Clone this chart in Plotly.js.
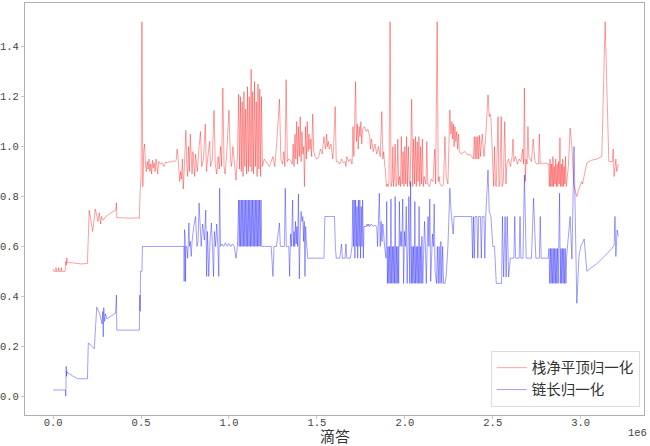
<!DOCTYPE html>
<html>
<head>
<meta charset="utf-8">
<script src="https://cdn.plot.ly/plotly-3.0.1.min.js"></script>
<style>html,body{margin:0;padding:0;background:#fff;}#chart{width:650px;height:446px;}</style>
</head>
<body>
<div id="chart"></div>
<script>
// x in units of 1e6 ticks (axis offset label "1e6"), y normalised value
const seriesNames = ["栈净平顶归一化", "链长归一化"];
const xAxisLabel = "滴答";
const xOffsetLabel = "1e6";
const xTickValues = [0.0, 0.5, 1.0, 1.5, 2.0, 2.5, 3.0];
const yTickValues = [0.0, 0.2, 0.4, 0.6, 0.8, 1.0, 1.2, 1.4];

const stackPoints = [
[0.000,0.510],[0.005,0.500],[0.015,0.500],[0.016,0.515],[0.020,0.500],[0.030,0.500],[0.031,0.515],[0.035,0.500],[0.045,0.500],[0.046,0.515],
[0.050,0.500],[0.068,0.500],[0.072,0.540],[0.075,0.525],[0.078,0.555],[0.080,0.535],[0.100,0.535],[0.130,0.532],[0.160,0.530],[0.195,0.532],
[0.205,0.745],[0.225,0.660],[0.240,0.750],[0.255,0.700],[0.262,0.735],[0.270,0.690],[0.275,0.720],[0.285,0.705],[0.300,0.720],[0.330,0.735],
[0.355,0.745],[0.360,0.775],[0.362,0.715],[0.400,0.715],[0.440,0.713],[0.480,0.715],[0.490,0.712],
[0.495,0.820],[0.500,0.880],[0.505,1.500],[0.510,0.840],[0.515,0.980],[0.520,1.010],[0.525,0.930],
[0.530,0.900],[0.535,0.940],[0.540,0.910],[0.545,0.950],[0.550,0.900],[0.555,0.930],[0.560,0.890],[0.565,0.945],[0.570,0.915],[0.575,0.935],
[0.580,0.900],[0.585,0.950],[0.590,0.920],[0.595,0.890],[0.600,0.940],[0.610,0.930],[0.620,0.935],[0.630,0.920],[0.640,0.938],[0.650,0.935],
[0.660,0.940],[0.670,0.938],[0.680,0.942],[0.690,0.940],[0.700,0.945],
[0.705,0.990],[0.710,0.960],[0.715,0.880],[0.720,0.860],[0.725,0.900],[0.730,0.870],[0.735,0.950],[0.740,0.830],[0.745,0.900],[0.750,0.960],
[0.755,1.065],[0.760,0.930],[0.765,0.880],[0.770,1.000],[0.775,0.900],[0.780,1.050],[0.785,0.920],[0.790,0.890],[0.795,0.980],[0.800,0.940],
[0.805,0.880],[0.810,0.970],[0.815,0.920],[0.820,0.900],[0.830,1.000],[0.838,1.060],[0.845,0.920],[0.855,0.950],[0.865,1.090],[0.872,0.900],
[0.880,0.960],[0.890,1.020],[0.895,0.920],[0.905,0.950],[0.915,1.145],[0.922,0.930],[0.930,0.890],[0.938,0.960],[0.945,0.910],[0.952,1.000],
[0.958,0.920],[0.965,1.235],[0.972,0.920],[0.978,0.890],[0.985,0.950],[0.992,1.050],[1.000,1.145],[1.008,0.950],[1.015,0.920],[1.022,1.000],
[1.030,0.930],[1.040,0.865],[1.048,0.960],[1.055,1.210],
[1.060,0.910],[1.065,1.200],[1.070,0.900],[1.075,1.180],[1.080,0.880],[1.085,1.220],[1.090,0.920],[1.095,1.150],[1.100,0.890],[1.105,1.240],
[1.110,0.900],[1.115,1.200],[1.120,0.920],[1.126,1.310],[1.130,0.900],[1.135,1.220],[1.140,0.890],[1.145,1.260],[1.150,0.920],[1.155,1.180],
[1.160,0.880],[1.165,1.250],[1.170,0.910],[1.175,1.230],[1.180,0.880],[1.185,1.200],[1.190,0.920],
[1.200,0.950],[1.210,0.940],[1.220,0.930],[1.230,0.920],[1.240,0.940],[1.250,0.960],[1.260,0.920],[1.270,1.000],[1.287,1.190],[1.295,0.950],
[1.305,0.930],[1.312,0.980],[1.318,0.920],[1.325,1.268],[1.332,0.940],[1.340,0.950],[1.350,0.945],[1.360,0.930],[1.365,1.010],[1.370,0.920],
[1.375,1.050],[1.380,0.950],[1.385,1.100],[1.390,0.930],[1.395,1.080],[1.400,0.960],[1.405,1.120],[1.410,0.940],[1.415,1.060],[1.420,0.970],
[1.425,1.000],[1.429,0.840],[1.435,1.080],[1.440,0.950],[1.445,1.100],[1.450,0.980],[1.455,1.050],[1.460,0.990],[1.465,1.030],[1.470,0.960],
[1.476,1.130],[1.482,0.980],[1.490,0.960],[1.500,0.950],[1.510,0.960],[1.520,0.990],[1.530,0.970],[1.540,1.040],[1.545,1.010],[1.550,0.990],
[1.555,1.050],[1.560,1.000],[1.565,1.020],[1.570,0.990],[1.580,1.010],[1.590,0.950],[1.595,1.000],[1.604,1.160],[1.610,0.940],[1.620,0.940],
[1.630,0.930],[1.640,0.950],[1.650,0.935],[1.660,0.940],[1.665,0.920],[1.670,0.960],[1.680,0.940],[1.690,0.950],[1.700,0.930],
[1.705,1.080],[1.710,0.960],[1.715,1.100],[1.720,1.260],[1.725,1.020],[1.730,1.090],[1.735,0.990],[1.740,1.080],[1.745,1.040],[1.750,1.100],
[1.755,1.010],[1.760,1.070],[1.770,1.080],[1.780,1.060],[1.790,1.070],[1.800,1.040],[1.805,0.990],[1.810,1.030],[1.820,0.980],[1.830,1.010],
[1.840,0.970],[1.850,1.000],[1.860,0.960],[1.869,1.140],[1.875,0.950],[1.880,0.980],[1.885,0.930],[1.890,0.900],[1.895,0.840],[1.900,0.850],
[1.905,0.840],[1.910,0.860],[1.916,1.500],[1.922,0.840],
[1.928,0.860],[1.932,1.000],[1.936,0.840],[1.940,0.870],[1.945,1.010],[1.950,0.840],[1.955,0.860],[1.960,1.030],[1.965,0.845],[1.970,0.880],
[1.975,0.840],[1.980,1.040],[1.985,0.850],[1.990,0.980],[1.995,0.840],[2.000,1.000],[2.005,0.850],[2.010,1.040],[2.015,0.840],[2.020,1.000],
[2.025,0.860],[2.030,0.840],[2.039,1.190],[2.045,0.840],[2.050,1.030],[2.055,0.850],[2.060,1.040],[2.065,0.840],[2.070,1.020],[2.075,0.860],
[2.080,1.040],[2.085,0.840],[2.090,1.000],[2.095,0.850],[2.100,1.030],[2.105,0.840],[2.110,0.880],[2.120,0.850],[2.125,1.020],[2.130,0.850],
[2.140,0.840],[2.150,0.870],[2.160,0.860],[2.170,0.990],[2.175,0.850],[2.184,1.500],[2.190,0.860],[2.195,0.880],[2.200,0.850],[2.210,0.840],
[2.220,0.850],[2.228,1.040],[2.235,0.880],[2.245,0.850],[2.256,1.147],[2.262,1.050],[2.268,1.100],[2.272,1.030],[2.276,1.090],[2.280,1.000],
[2.285,1.080],[2.290,1.020],[2.295,1.060],[2.300,0.990],[2.305,1.050],[2.310,0.980],[2.320,0.970],[2.330,0.975],[2.340,0.980],[2.350,0.975],
[2.360,0.965],[2.370,0.970],[2.380,0.960],
[2.390,0.950],[2.395,1.040],[2.400,0.950],[2.405,1.040],[2.410,0.950],[2.415,1.040],[2.420,0.950],[2.425,1.045],[2.430,0.960],[2.440,1.050],
[2.450,0.960],[2.460,1.040],[2.473,1.207],[2.480,1.120],[2.485,1.130],[2.490,1.110],
[2.500,0.900],[2.505,0.840],[2.510,1.000],[2.515,0.850],[2.520,0.840],[2.530,1.120],[2.535,0.840],[2.540,0.850],[2.548,1.120],[2.553,0.840],
[2.560,0.860],[2.568,1.100],[2.575,0.850],[2.580,0.930],[2.590,0.950],[2.600,0.920],[2.610,0.960],[2.615,1.030],[2.620,0.940],[2.630,0.960],
[2.640,0.930],[2.650,0.950],[2.660,0.940],[2.670,0.990],[2.675,0.930],[2.680,1.235],[2.685,0.860],[2.690,0.950],[2.695,0.930],[2.700,1.080],
[2.705,0.960],[2.720,0.940],[2.730,1.030],[2.740,0.940],[2.750,0.930],[2.760,0.930],[2.765,1.050],[2.770,0.930],[2.780,0.935],[2.790,0.930],
[2.800,0.935],[2.810,0.930],[2.818,0.930],
[2.822,0.840],[2.826,0.950],[2.830,0.840],[2.834,0.930],[2.838,0.840],[2.842,0.960],[2.846,0.840],[2.850,0.920],[2.854,0.850],[2.858,0.950],
[2.862,0.840],[2.866,0.930],[2.870,0.840],[2.874,0.940],[2.878,0.850],[2.882,1.035],[2.886,0.840],[2.890,0.930],[2.894,0.840],[2.898,0.950],
[2.902,0.840],[2.906,0.920],[2.910,0.850],[2.914,0.960],[2.918,0.840],
[2.930,0.920],[2.940,1.074],[2.950,1.000],[2.960,0.850],[2.970,0.820],[2.978,0.800],[2.985,0.820],[2.995,0.840],[3.005,0.860],[3.010,0.850],
[3.015,0.870],[3.020,0.880],[3.030,0.930],[3.035,0.935],[3.060,0.945],[3.090,0.950],[3.120,0.960],[3.139,1.500],[3.160,0.940],[3.180,0.940],
[3.185,0.990],[3.190,0.880],[3.200,0.950],[3.205,0.900],[3.214,0.930]
];

const chainPoints = [
[0.000,0.025],[0.070,0.025],[0.072,0.000],[0.074,0.120],[0.076,0.080],[0.078,0.100],[0.080,0.095],[0.110,0.082],[0.140,0.070],[0.195,0.070],
[0.200,0.213],[0.215,0.205],[0.234,0.190],[0.248,0.357],[0.265,0.330],[0.278,0.290],[0.282,0.340],[0.285,0.238],[0.288,0.355],[0.292,0.300],
[0.298,0.330],[0.305,0.310],[0.330,0.320],[0.355,0.333],[0.360,0.405],[0.362,0.265],[0.400,0.265],[0.450,0.265],[0.490,0.265],[0.493,0.405],
[0.495,0.340],[0.497,0.500],[0.505,0.500],[0.508,0.600],[0.550,0.600],[0.650,0.600],[0.744,0.600],
[0.745,0.460],[0.747,0.667],[0.749,0.480],[0.751,0.640],[0.753,0.460],[0.755,0.600],[0.760,0.600],[0.765,0.553],[0.768,0.600],[0.772,0.694],
[0.776,0.600],[0.780,0.620],[0.785,0.560],[0.790,0.620],[0.800,0.680],[0.810,0.720],[0.818,0.600],[0.824,0.620],[0.830,0.774],[0.836,0.650],
[0.842,0.600],[0.850,0.690],[0.860,0.626],[0.868,0.746],[0.873,0.480],[0.878,0.660],[0.885,0.480],[0.892,0.620],[0.900,0.694],[0.906,0.600],
[0.912,0.480],[0.917,0.660],[0.924,0.600],[0.930,0.690],[0.937,0.600],[0.942,0.480],[0.947,0.833],[0.952,0.600],[0.960,0.610],[0.970,0.600],
[0.980,0.615],[0.990,0.600],[1.000,0.612],[1.010,0.600],[1.020,0.610],[1.030,0.600],[1.040,0.553],[1.048,0.600],
[1.055,0.786],[1.058,0.600],[1.062,0.786],[1.066,0.600],[1.070,0.786],[1.074,0.600],[1.078,0.786],[1.082,0.600],[1.086,0.786],[1.090,0.600],
[1.094,0.786],[1.098,0.600],[1.102,0.786],[1.106,0.600],[1.110,0.786],[1.114,0.600],[1.118,0.786],[1.122,0.600],[1.126,0.786],[1.130,0.600],
[1.134,0.786],[1.138,0.600],[1.142,0.786],[1.146,0.600],[1.150,0.786],[1.154,0.600],[1.158,0.786],[1.162,0.600],[1.166,0.786],[1.170,0.600],
[1.174,0.786],[1.178,0.600],[1.182,0.786],[1.186,0.600],
[1.200,0.600],[1.240,0.600],[1.250,0.480],[1.256,0.600],[1.270,0.600],[1.287,0.694],[1.292,0.600],[1.315,0.600],[1.320,0.833],[1.326,0.600],
[1.340,0.600],[1.345,0.480],[1.350,0.650],[1.355,0.600],[1.362,0.786],[1.366,0.600],[1.370,0.660],[1.374,0.600],[1.378,0.700],[1.382,0.610],
[1.386,0.680],[1.390,0.600],[1.395,0.810],[1.400,0.470],[1.405,0.660],[1.410,0.740],[1.415,0.700],[1.420,0.720],[1.424,0.620],[1.428,0.700],
[1.432,0.480],[1.436,0.680],[1.440,0.620],[1.448,0.553],[1.495,0.553],[1.540,0.553],[1.545,0.720],[1.600,0.720],[1.605,0.600],[1.610,0.553],
[1.630,0.553],[1.640,0.610],[1.645,0.553],[1.660,0.553],[1.665,0.610],[1.670,0.553],[1.690,0.553],
[1.700,0.600],[1.704,0.786],[1.708,0.600],[1.712,0.786],[1.716,0.553],[1.720,0.786],[1.724,0.600],[1.728,0.760],[1.732,0.553],[1.736,0.786],
[1.740,0.600],[1.744,0.786],[1.748,0.553],[1.752,0.760],[1.756,0.600],[1.760,0.786],[1.764,0.553],[1.768,0.680],[1.780,0.680],[1.785,0.690],
[1.790,0.680],[1.795,0.690],[1.800,0.680],[1.810,0.690],[1.820,0.680],[1.830,0.685],[1.840,0.680],[1.845,0.600],[1.855,0.813],[1.860,0.600],
[1.865,0.700],[1.870,0.620],[1.875,0.690],[1.885,0.600],
[1.893,0.553],[1.897,0.780],[1.901,0.452],[1.905,0.600],[1.909,0.452],[1.913,0.600],[1.917,0.452],[1.921,0.790],[1.925,0.452],[1.929,0.600],
[1.933,0.452],[1.937,0.600],[1.941,0.452],[1.945,0.800],[1.949,0.452],[1.953,0.600],[1.957,0.452],[1.961,0.600],[1.965,0.452],[1.969,0.780],
[1.973,0.600],[1.978,0.660],[1.983,0.600],[1.988,0.790],[1.993,0.452],[1.998,0.660],[2.003,0.600],[2.008,0.760],[2.013,0.452],[2.018,0.600],
[2.023,0.800],[2.028,0.452],[2.033,0.860],[2.037,0.452],[2.041,0.600],[2.045,0.452],[2.049,0.600],[2.053,0.452],[2.057,0.780],[2.061,0.452],
[2.065,0.600],[2.069,0.452],[2.073,0.600],[2.077,0.452],[2.081,0.760],[2.085,0.452],[2.089,0.600],[2.093,0.452],[2.097,0.640],[2.102,0.452],
[2.107,0.600],[2.112,0.700],[2.117,0.600],[2.122,0.452],[2.127,0.600],[2.132,0.720],[2.137,0.600],[2.142,0.790],[2.147,0.460],[2.152,0.600],
[2.157,0.650],[2.162,0.600],[2.167,0.770],[2.172,0.500],[2.180,0.452],[2.185,0.600],[2.190,0.452],[2.195,0.600],[2.200,0.452],[2.205,0.620],
[2.210,0.452],[2.215,0.600],[2.220,0.452],[2.228,0.452],[2.235,0.480],[2.245,0.600],[2.256,0.833],[2.262,0.746],[2.270,0.700],[2.275,0.650],
[2.280,0.720],[2.320,0.720],[2.350,0.720],[2.380,0.720],[2.385,0.553],[2.390,0.720],[2.395,0.553],[2.400,0.720],[2.410,0.720],[2.415,0.553],
[2.420,0.720],[2.430,0.720],[2.435,0.553],[2.440,0.720],[2.450,0.720],[2.455,0.553],[2.460,0.720],[2.473,0.906],[2.480,0.740],[2.490,0.720],
[2.500,0.600],[2.510,0.600],[2.520,0.452],[2.550,0.452],[2.555,0.720],[2.562,0.478],[2.570,0.720],[2.576,0.478],[2.582,0.720],[2.590,0.478],
[2.600,0.553],[2.620,0.553],[2.625,0.720],[2.630,0.553],[2.650,0.553],[2.655,0.720],[2.660,0.553],[2.672,0.553],[2.680,0.886],[2.690,0.553],
[2.720,0.553],[2.732,0.793],[2.745,0.553],[2.765,0.553],[2.770,0.720],[2.775,0.553],[2.815,0.553],
[2.820,0.592],[2.824,0.452],[2.828,0.592],[2.832,0.452],[2.836,0.592],[2.840,0.452],[2.844,0.592],[2.848,0.452],[2.852,0.592],[2.856,0.452],
[2.860,0.592],[2.864,0.452],[2.868,0.592],[2.872,0.452],[2.876,0.592],[2.880,0.813],[2.884,0.452],[2.888,0.592],[2.892,0.452],[2.896,0.592],
[2.900,0.452],[2.904,0.592],[2.908,0.452],[2.912,0.592],[2.916,0.452],[2.920,0.560],
[2.940,0.720],[2.950,0.550],[2.962,1.000],[2.970,0.600],[2.978,0.372],[2.990,0.560],[3.000,0.600],[3.020,0.630],[3.035,0.500],[3.060,0.515],
[3.090,0.530],[3.120,0.550],[3.150,0.570],[3.175,0.590],[3.190,0.605],[3.195,0.720],[3.200,0.560],[3.207,0.666],[3.214,0.640]
];

const monoFont = "'Liberation Mono', 'DejaVu Sans Mono', monospace";
const cjkFont = "'Noto Sans CJK SC', 'Noto Sans', sans-serif";

const traces = [
  {
    type: 'scatter', mode: 'lines', name: seriesNames[0],
    x: stackPoints.map(p => p[0]), y: stackPoints.map(p => p[1]),
    line: {color: 'rgba(255,0,0,0.42)', width: 0.9}
  },
  {
    type: 'scatter', mode: 'lines', name: seriesNames[1],
    x: chainPoints.map(p => p[0]), y: chainPoints.map(p => p[1]),
    line: {color: 'rgba(0,0,255,0.42)', width: 0.9}
  }
];

const axisCommon = {
  showgrid: false, zeroline: false, showline: true, mirror: true,
  linecolor: '#b0b0b0', linewidth: 1,
  ticks: 'outside', ticklen: 3, tickwidth: 1, tickcolor: '#c8c8c8',
  tickfont: {family: monoFont, size: 10.5, color: '#444'},
  automargin: false
};

const layout = {
  width: 650, height: 446,
  margin: {l: 25, r: 6, t: 3, b: 31, pad: 0},
  paper_bgcolor: '#fff', plot_bgcolor: '#fff',
  showlegend: true,
  legend: {
    x: 0.993, xanchor: 'right', y: 0.02, yanchor: 'bottom',
    bgcolor: 'rgba(255,255,255,0.8)', bordercolor: '#dcdcdc', borderwidth: 1,
    font: {family: cjkFont, size: 14.5, color: '#333'},
    tracegroupgap: 0
  },
  xaxis: Object.assign({}, axisCommon, {
    range: [-0.16, 3.36], tickmode: 'array', tickvals: xTickValues,
    ticktext: xTickValues.map(v => v.toFixed(1)),
    ticklabelstandoff: -6
  }),
  yaxis: Object.assign({}, axisCommon, {
    range: [-0.075, 1.575], tickmode: 'array', tickvals: yTickValues,
    ticktext: yTickValues.map(v => v.toFixed(1))
  }),
  annotations: [
    {text: xAxisLabel, xref: 'paper', yref: 'paper', x: 0.5, y: 0, xanchor: 'center', yanchor: 'middle',
     yshift: -20, showarrow: false, font: {family: cjkFont, size: 15, color: '#333'}},
    {text: xOffsetLabel, xref: 'paper', yref: 'paper', x: 1, y: 0, xanchor: 'right', yanchor: 'middle',
     xshift: 5, yshift: -18, showarrow: false, font: {family: monoFont, size: 10.5, color: '#444'}}
  ]
};

Plotly.newPlot('chart', traces, layout, {staticPlot: true, displayModeBar: false});
</script>
</body>
</html>
